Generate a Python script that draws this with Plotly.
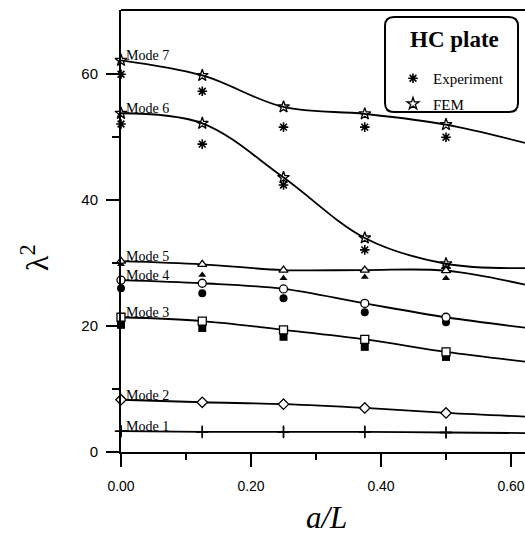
import plotly.graph_objects as go

# Crack-length ratio a/L
a_over_L = [0.0, 0.125, 0.25, 0.375, 0.5, 0.625]
a_exp = [0.0, 0.125, 0.25, 0.375, 0.5]

# FEM eigenvalues (lambda^2) per mode
fem_mode1 = [3.3, 3.2, 3.2, 3.2, 3.1, 3.0]
fem_mode2 = [8.3, 7.9, 7.6, 7.0, 6.2, 5.6]
fem_mode3 = [21.4, 20.8, 19.4, 17.9, 15.9, 14.3]
fem_mode4 = [27.3, 26.8, 25.9, 23.6, 21.4, 19.7]
fem_mode5 = [30.3, 29.8, 28.9, 28.9, 28.8, 26.5]
fem_mode6 = [53.8, 52.2, 43.6, 34.0, 29.9, 29.2]
fem_mode7 = [62.2, 59.8, 54.8, 53.7, 52.0, 49.0]

# Measured eigenvalues per mode
exp_mode1 = [3.3, 3.2, 3.2, 3.2, 3.1]
exp_mode2 = [8.3, None, None, None, None]
exp_mode3 = [20.2, 19.7, 18.3, 16.7, 15.1]
exp_mode4 = [26.0, 25.2, 24.4, 22.2, 20.6]
exp_mode5 = [29.8, 28.1, 27.6, 27.8, 27.6]
exp_mode6 = [52.1, 48.9, 42.4, 32.1, 29.2]
exp_mode7 = [60.0, 57.3, 51.6, 51.6, 50.0]

mode_names = ["Mode 1", "Mode 2", "Mode 3", "Mode 4", "Mode 5", "Mode 6", "Mode 7"]
fem_all = [fem_mode1, fem_mode2, fem_mode3, fem_mode4, fem_mode5, fem_mode6, fem_mode7]
exp_all = [exp_mode1, exp_mode2, exp_mode3, exp_mode4, exp_mode5, exp_mode6, exp_mode7]

fem_symbols = ["cross-thin-open", "diamond", "square", "circle", "triangle-up", "star-open", "star-open"]
exp_symbols = ["cross-thin-open", "circle", "square", "circle", "triangle-up", "asterisk-open", "asterisk-open"]

BLACK = "#000000"
W, H = 525, 534
L_M, T_M, PW, PH = 121, 10, 404, 442

fig = go.Figure()

# Smooth FEM curves
for fem in fem_all:
    fig.add_trace(go.Scatter(
        x=a_over_L, y=fem, mode="lines",
        line=dict(color=BLACK, width=1.8, shape="spline", smoothing=1.0),
        showlegend=False, hoverinfo="skip",
    ))

# Experimental markers
for i, (ev, sym) in enumerate(zip(exp_all, exp_symbols)):
    open_sym = sym.endswith("-open")
    fig.add_trace(go.Scatter(
        x=a_exp, y=ev, mode="markers",
        marker=dict(symbol=sym, size=8 if i != 4 else 7,
                    color=BLACK, line=dict(color=BLACK, width=1.6 if open_sym else 0)),
        name="Experiment", legendgroup="exp", showlegend=(i == 6),
        cliponaxis=False,
    ))

# FEM markers
for i, (fv, sym) in enumerate(zip(fem_all, fem_symbols)):
    open_sym = sym.endswith("-open")
    fig.add_trace(go.Scatter(
        x=a_over_L, y=fv, mode="markers",
        marker=dict(symbol=sym, size=9 if open_sym else 8,
                    color=BLACK if open_sym else "white",
                    line=dict(color=BLACK, width=1.3)),
        name="FEM", legendgroup="fem", showlegend=(i == 6),
        cliponaxis=False,
    ))

# Mode labels sitting on each curve near a/L = 0
for name, fem in zip(mode_names, fem_all):
    fig.add_annotation(
        x=0, y=fem[0], xref="x", yref="y", text=name, showarrow=False,
        xanchor="left", yanchor="bottom", xshift=3, yshift=-5,
        font=dict(family="Liberation Serif", size=14, color=BLACK),
    )


def to_paper(xp, yp):
    return (xp - L_M) / PW, (T_M + PH - yp) / PH


# Axis titles
lx, ly = to_paper(35, 258)
fig.add_annotation(
    x=lx, y=ly, xref="paper", yref="paper", text="λ<sup>2</sup>",
    showarrow=False, textangle=-90, xanchor="center", yanchor="middle",
    font=dict(family="Liberation Serif", size=32, color=BLACK),
)
tx, ty = to_paper(326, 517)
fig.add_annotation(
    x=tx, y=ty, xref="paper", yref="paper", text="<i>a/L</i>",
    showarrow=False, xanchor="center", yanchor="middle",
    font=dict(family="Liberation Serif", size=31, color=BLACK),
)

# Legend heading
hx, hy = to_paper(454, 40)
fig.add_annotation(
    x=hx, y=hy, xref="paper", yref="paper", text="<b>HC plate</b>",
    showarrow=False, xanchor="center", yanchor="middle",
    font=dict(family="Liberation Serif", size=23, color=BLACK),
)

# Top frame line
fig.add_shape(type="line", xref="paper", yref="paper", x0=0, x1=1, y0=1, y1=1,
              line=dict(color=BLACK, width=2))

# Rounded legend box
x0, x1 = 385, 518
y0, y1 = 17, 112
r = 9
corners = [
    ("M", [(x0 + r, y0)]),
    ("L", [(x1 - r, y0)]),
    ("Q", [(x1, y0), (x1, y0 + r)]),
    ("L", [(x1, y1 - r)]),
    ("Q", [(x1, y1), (x1 - r, y1)]),
    ("L", [(x0 + r, y1)]),
    ("Q", [(x0, y1), (x0, y1 - r)]),
    ("L", [(x0, y0 + r)]),
    ("Q", [(x0, y0), (x0 + r, y0)]),
]
segs = []
for cmd, pts in corners:
    segs.append(cmd)
    for (a, b) in pts:
        pxp, pyp = to_paper(a, b)
        segs.append(f"{pxp:.4f},{pyp:.4f}")
segs.append("Z")
fig.add_shape(type="path", xref="paper", yref="paper", path=" ".join(segs),
              line=dict(color=BLACK, width=2), fillcolor="rgba(255,255,255,0)")

lgx, lgy = to_paper(393, 62)
fig.update_layout(
    width=W, height=H,
    margin=dict(l=L_M, r=0, t=T_M, b=H - T_M - PH, autoexpand=False),
    plot_bgcolor="white", paper_bgcolor="white",
    showlegend=True,
    legend=dict(
        x=lgx, y=lgy, xanchor="left", yanchor="top",
        bgcolor="rgba(0,0,0,0)", borderwidth=0,
        font=dict(family="Liberation Serif", size=15, color=BLACK),
        tracegroupgap=3,
    ),
    xaxis=dict(
        range=[0, 0.6215], showgrid=False, zeroline=False,
        showline=True, linecolor=BLACK, linewidth=2,
        ticks="outside", ticklen=13, tickwidth=1.5, tickcolor=BLACK,
        tickvals=[0, 0.2, 0.4, 0.6], ticktext=["0.00", "0.20", "0.40", "0.60"],
        minor=dict(tickvals=[0.1, 0.3, 0.5], ticks="outside", ticklen=6,
                   tickwidth=1.5, tickcolor=BLACK),
        tickfont=dict(family="Liberation Sans", size=14, color=BLACK),
        ticklabelstandoff=7,
    ),
    yaxis=dict(
        range=[0, 70.2], showgrid=False, zeroline=False,
        showline=True, linecolor=BLACK, linewidth=2,
        ticks="outside", ticklen=13, tickwidth=1.5, tickcolor=BLACK,
        tickvals=[0, 20, 40, 60],
        minor=dict(tickvals=[10, 30, 50], ticks="outside", ticklen=7,
                   tickwidth=1.5, tickcolor=BLACK),
        tickfont=dict(family="Liberation Sans", size=15, color=BLACK),
        ticklabelstandoff=5,
    ),
)

fig.write_html("out.html")
